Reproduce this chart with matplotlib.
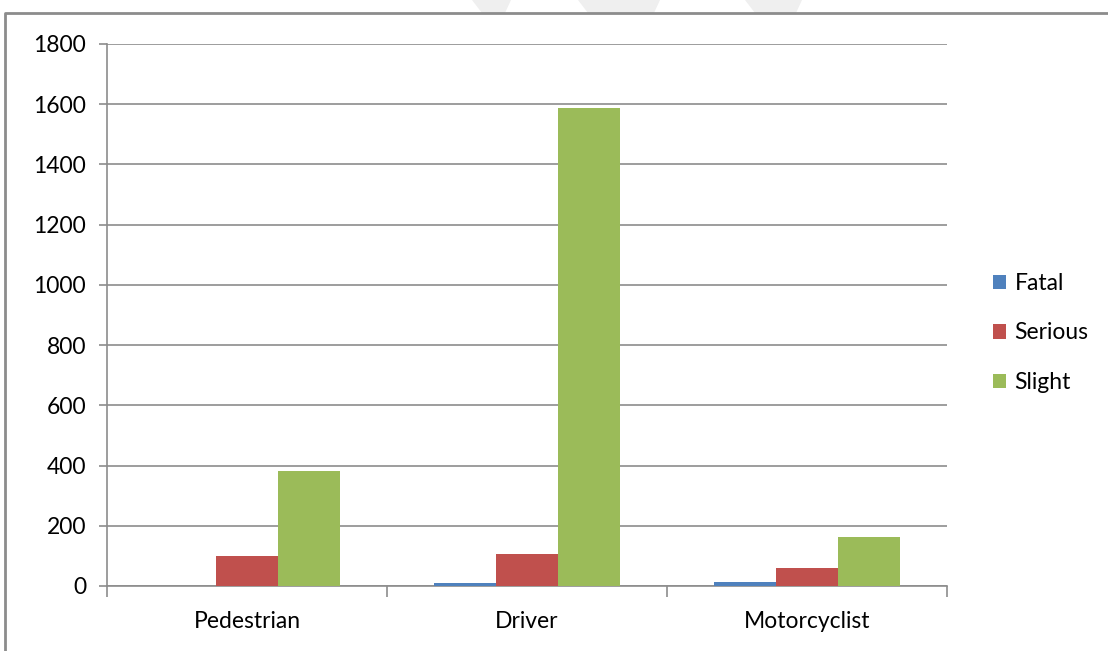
import matplotlib.pyplot as plt
from matplotlib.patches import Polygon, Patch
from matplotlib.lines import Line2D
import numpy as np

# casualties by road user type and severity
categories = ["Pedestrian", "Driver", "Motorcyclist"]
series_names = ["Fatal", "Serious", "Slight"]
fatal = [0, 9, 13]
serious = [100, 107, 61]
slight = [381, 1588, 163]
colors = ["#4F81BD", "#C0504D", "#9BBB59"]

W, H = 1108, 651
fig = plt.figure(figsize=(W / 100, H / 100), dpi=100)
plt.rcParams['font.family'] = ['Lato', 'DejaVu Sans']
fs = 16.5

# faint watermark stripes and outer chart frame
for xs in [(472, 492, 511, 490), (578, 610, 660, 628), (745, 768, 802, 779)]:
    pts = [(xs[0], 0), (xs[2], 0), (xs[2] - 6, 13), (xs[0] + 10, 13)]
    fig.patches.append(Polygon([(x / W, 1 - y / H) for x, y in pts], closed=True,
                               transform=fig.transFigure, facecolor="#efefef",
                               edgecolor="none", zorder=0))
fig.lines.append(Line2D([5 / W, 5 / W, 1], [0, 1 - 13 / H, 1 - 13 / H],
                        transform=fig.transFigure, color="#8c8c8c", lw=2))

ax = fig.add_axes([107 / W, 1 - 586 / H, (947 - 107) / W, (586 - 44) / H])

x = np.arange(len(categories))
bw = 0.222
for i, (vals, name) in enumerate(zip([fatal, serious, slight], series_names)):
    ax.bar(x + (i - 1) * bw, vals, bw, color=colors[i], label=name, zorder=3)

ax.set_xlim(-0.5, len(categories) - 0.5)
ax.set_ylim(0, 1800)
ax.set_yticks(range(0, 1801, 200))
ax.yaxis.grid(True, color="#8c8c8c", lw=1.2, zorder=0)
ax.set_axisbelow(True)

ax.set_xticks(np.arange(-0.5, len(categories), 1.0))
ax.set_xticklabels([])
ax.set_xticks(x, minor=True)
ax.set_xticklabels(categories, minor=True)
ax.tick_params(axis='x', which='major', length=8, color="#8c8c8c", width=1.2)
ax.tick_params(axis='x', which='minor', length=0, pad=18, labelsize=fs)
ax.tick_params(axis='y', length=6, color="#8c8c8c", width=1.2, labelsize=fs, pad=9)

for s in ["top", "right"]:
    ax.spines[s].set_visible(False)
for s in ["left", "bottom"]:
    ax.spines[s].set_color("#8c8c8c")
    ax.spines[s].set_linewidth(1.2)

handles = [Patch(facecolor=c, edgecolor="none") for c in colors]
fig.legend(handles, series_names, loc="center left",
           bbox_to_anchor=(972 / W, 1 - 333 / H), frameon=False,
           fontsize=fs, handlelength=0.6, handleheight=0.6,
           handletextpad=0.35, labelspacing=1.25)

fig.savefig("out.png", dpi=100)
